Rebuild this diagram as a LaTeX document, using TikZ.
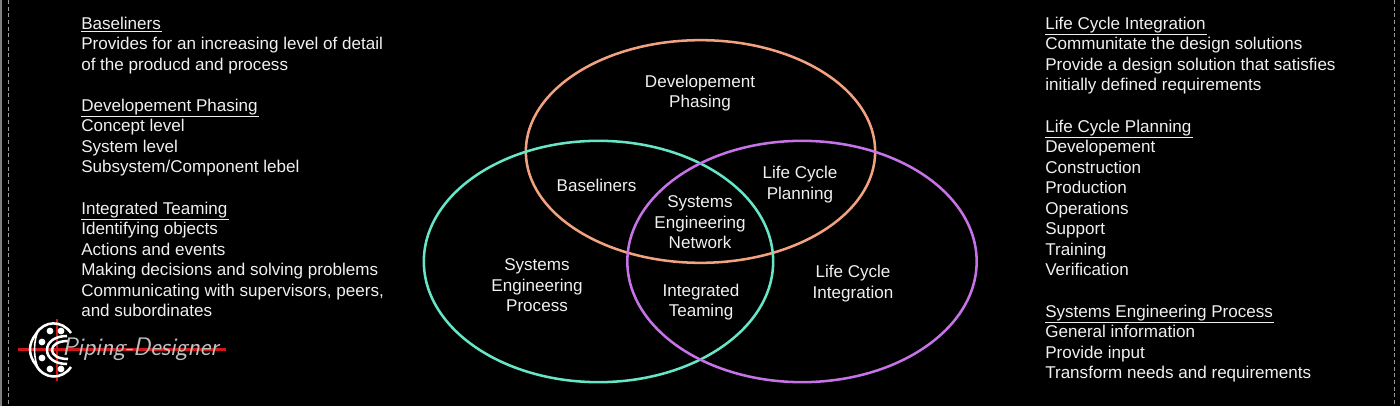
\documentclass[tikz,border=0pt]{standalone}
\usepackage{fontspec}
\setmainfont{Liberation Sans}
\usetikzlibrary{positioning,shapes.geometric}
\definecolor{phasing}{HTML}{F2A27F}
\definecolor{process}{HTML}{66E6C6}
\definecolor{integration}{HTML}{C573E6}
\definecolor{logored}{HTML}{D01818}
\newcommand{\hdline}[1]{\underline{#1\kern1pt}}
\tikzset{
  venn/.style={draw,ellipse,line width=1.9pt,inner sep=0pt},
  region/.style={text=white!94!black,align=center,inner sep=0pt,font=\fontsize{12.8}{15.4}\selectfont},
  block/.style={text=white!94!black,align=left,inner sep=0pt,anchor=north west,font=\fontsize{12.8}{15.4}\selectfont},
  logoline/.style={draw=white,line width=1.9pt},
  ball/.style={fill=white,draw=none}
}
\begin{document}
\begin{tikzpicture}[x=0.75pt,y=-0.75pt]
  \fill[black] (0,0) rectangle (1400,406);
  \useasboundingbox (0,0) rectangle (1400,406);
  % page edges
  \draw[gray,line width=1.5pt] (1,0)--(1,406);
  \draw[gray!80,densely dashed,line width=0.6pt] (8.5,0)--(8.5,406);
  \draw[gray!80,densely dashed,line width=0.6pt] (1394,0)--(1394,406);
  % circles
  \node[venn,draw=phasing,minimum width=262pt,minimum height=167pt] (phasing) at (700.5,151.5) {};
  \node[venn,draw=process,minimum width=262pt,minimum height=181pt] (process) at (598.5,261.5) {};
  \node[venn,draw=integration,minimum width=262pt,minimum height=181pt] (integration) at (802,261.5) {};
  % regions
  \node[region] (dp) at (700,93) {Developement\\Phasing};
  \node[region] (bl) at (596.5,185.5) {Baseliners};
  \node[region] (lcp) at (800,184.5) {Life Cycle\\Planning};
  \node[region] (sen) at (700,222.5) {Systems\\Engineering\\Network};
  \node[region] (sep) at (537,285.5) {Systems\\Engineering\\Process};
  \node[region] (it) at (701,302) {Integrated\\Teaming};
  \node[region] (lci) at (853,283.5) {Life Cycle\\Integration};
  % left text
  \node[block] (baseliners) at (81,16.5) {\hdline{Baseliners}\\Provides for an increasing level of detail\\of the producd and process};
  \node[block] (phasingtxt) at (81,98.5) {\hdline{Developement Phasing}\\Concept level\\System level\\Subsystem/Component lebel};
  \node[block] (teamingtxt) at (81,201.5) {\hdline{Integrated Teaming}\\Identifying objects\\Actions and events\\Making decisions and solving problems\\Communicating with supervisors, peers,\\and subordinates};
  % right text
  \node[block] (integrationtxt) at (1045,16.5) {\hdline{Life Cycle Integration}\\Communitate the design solutions\\Provide a design solution that satisfies\\initially defined requirements};
  \node[block] (planningtxt) at (1045,119.5) {\hdline{Life Cycle Planning}\\Developement\\Construction\\Production\\Operations\\Support\\Training\\Verification};
  \node[block] (processtxt) at (1045,304.5) {\hdline{Systems Engineering Process}\\General information\\Provide input\\Transform needs and requirements};
  % logo
  \draw[logored,line width=2pt] (18,349.5)--(226,349.5);
  \draw[logored,line width=2pt] (57,319)--(57,381);
  \draw[logoline] (71,333) .. controls (62,320) and (44,320) .. (36,334) .. controls (28,344) and (28,355) .. (36,365) .. controls (44,380) and (62,380) .. (71,367);
  \draw[logoline,line width=1.2pt] (39,329) .. controls (33,340) and (33,359) .. (39,370);
  \draw[logoline] (67,336) .. controls (55,336) and (47,342) .. (47,350) .. controls (47,358) and (55,364) .. (67,364);
  \draw[logoline] (68,341) .. controls (58,341) and (52,345) .. (52,350) .. controls (52,355) and (58,359) .. (68,359);
  \foreach \bx/\by in {50/331,61/331,50/369,61/369,42/342,42/358}
    \fill[ball] (\bx,\by) circle[radius=3.4];
  \node[inner sep=0pt,anchor=west,text=white!75!black,font=\fontsize{19}{19}\itshape\sffamily] (logo) at (62,349) {Piping-Designer};
\end{tikzpicture}
\end{document}
